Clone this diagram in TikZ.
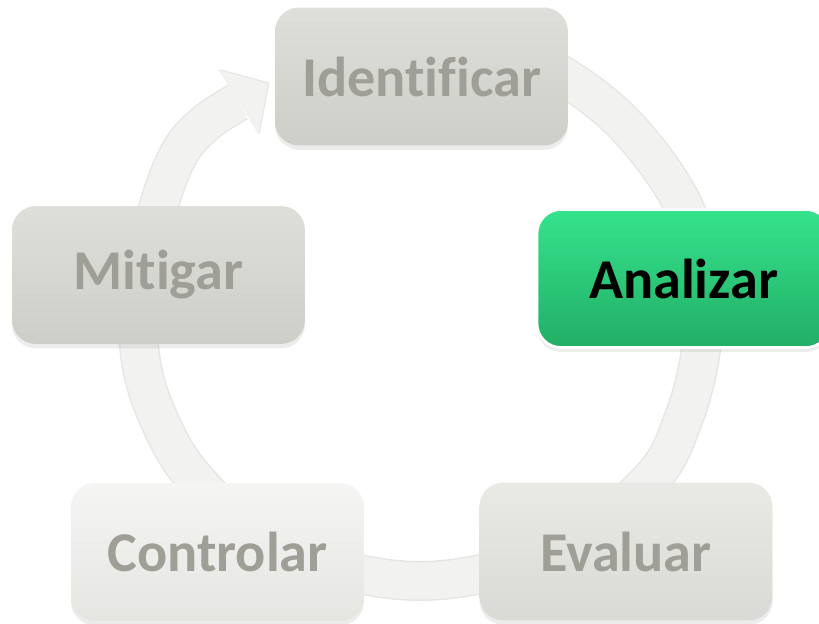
\documentclass[tikz,border=0pt]{standalone}
\usepackage{fontspec}
\setmainfont{Carlito}[Ligatures=NoCommon]
\usetikzlibrary{shadows}
\definecolor{ringc}{HTML}{F2F2F0}
\definecolor{ringe}{HTML}{E6E6E3}
\definecolor{txtg}{HTML}{A09F97}
\definecolor{grayT}{HTML}{DEDEDA}
\definecolor{grayB}{HTML}{CECEC9}
\definecolor{evalT}{HTML}{E9E9E6}
\definecolor{evalB}{HTML}{D9D9D5}
\definecolor{ctrlT}{HTML}{F5F5F4}
\definecolor{ctrlB}{HTML}{E5E5E2}
\definecolor{greenT}{HTML}{35E38D}
\definecolor{greenB}{HTML}{22AE65}
\begin{document}
\begin{tikzpicture}[x=0.02cm,y=-0.02cm,
  stepbox/.style={rounded corners=0.48cm, minimum width=5.86cm, minimum height=2.76cm,
    font=\fontsize{32}{38}\selectfont\bfseries, text=txtg,
    drop shadow={opacity=0.15, shadow xshift=0pt, shadow yshift=-2.5pt}},
  greybox/.style={stepbox, top color=grayT, bottom color=grayB},
  ringline/.style={line cap=butt, line join=round}
]
\clip (0,0) rectangle (819,624);
\fill[white] (0,0) rectangle (819,624);
% ring (cycle arrow)
\def\ringpath{plot[smooth, tension=0.6] coordinates {(500,45) (568,79) (630,130) (683,205) (703,280) (701,350) (683,420) (650,480) (560,549) (420,581) (280,549) (196,480) (155,410) (139,345) (143,275) (159,205) (180,152) (207,122) (238,102)}}
\draw[ringline, ringe, line width=0.8cm] \ringpath;
\draw[ringline, ringc, line width=0.74cm] \ringpath;
\fill[ringc] (218,69) -- (269,83) -- (259,135) -- cycle;
\draw[ringe, line width=0.6pt, line join=round] (221,70) -- (269,83) -- (259,134);
% boxes
\node[greybox] (ident) at (421.5,76.5) {Identificar};
\node[greybox] (mitig) at (158.5,275) {Mitigar};
\node[stepbox, top color=evalT, bottom color=evalB] (evalu) at (626,551.5) {Evaluar};
\node[stepbox, top color=ctrlT, bottom color=ctrlB] (contr) at (217.5,552) {Controlar};
\node[stepbox, top color=greenT, bottom color=greenB, draw=white, line width=1.5pt, text=black] (anali) at (683.5,278.5) {Analizar};
\end{tikzpicture}
\end{document}
